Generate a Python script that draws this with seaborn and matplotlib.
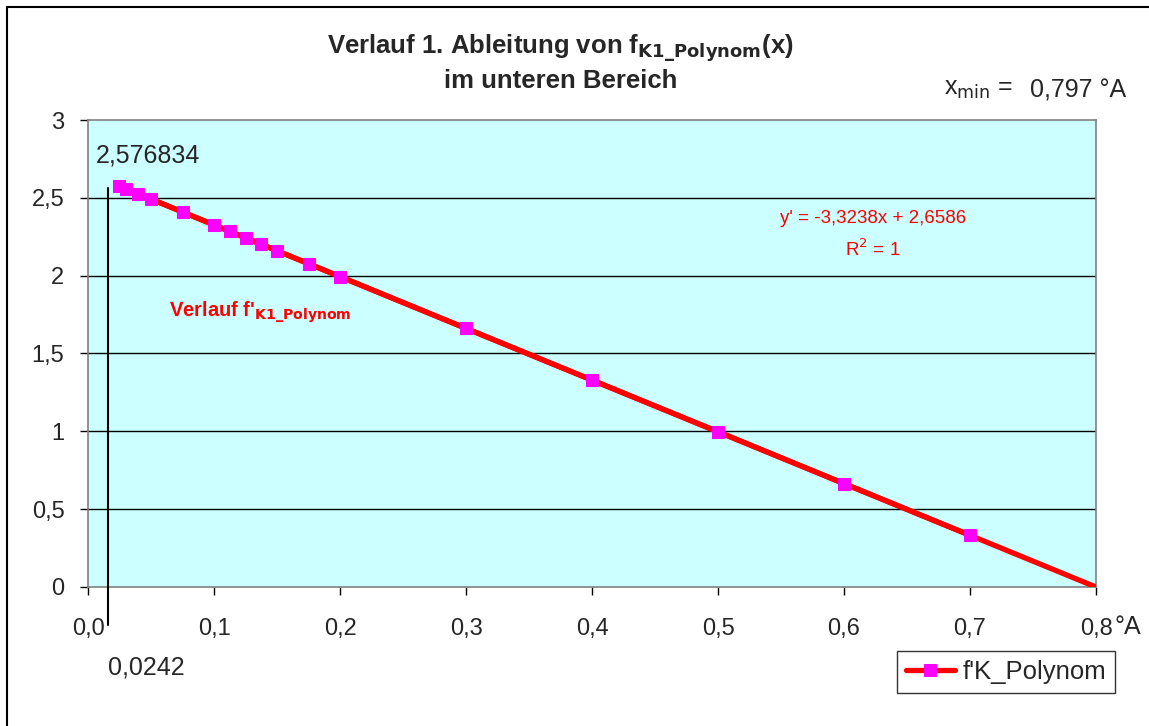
import seaborn as sns
import pandas as pd
import numpy as np
import matplotlib.pyplot as plt
from matplotlib.ticker import FuncFormatter
from matplotlib.patches import Rectangle

# Werte
x_werte = [0.0242, 0.03, 0.04, 0.05, 0.075, 0.1, 0.1125, 0.125, 0.1375, 0.15,
           0.175, 0.2, 0.3, 0.4, 0.5, 0.6, 0.7]
y_werte = [2.577, 2.559, 2.526, 2.492, 2.409, 2.326, 2.285, 2.243, 2.202, 2.160,
           2.077, 1.994, 1.661, 1.329, 0.997, 0.664, 0.332]
x_ende = 0.8
x_ticks = [0.0, 0.1, 0.2, 0.3, 0.4, 0.5, 0.6, 0.7, 0.8]
y_ticks = [0, 0.5, 1, 1.5, 2, 2.5, 3]

sns.set_style('white')
plt.rcParams['font.family'] = ['Liberation Sans', 'DejaVu Sans']

df = pd.DataFrame({'x': x_werte, 'y': y_werte})

# lineare Trendlinie
m, b = np.polyfit(df['x'], df['y'], 1)
trend = pd.DataFrame({'x': [df['x'].iloc[0], x_ende]})
trend['y'] = m * trend['x'] + b

fig = plt.figure(figsize=(11.49, 7.26), dpi=100)
ax = fig.add_axes([0.0766, 0.1915, 0.8773, 0.6432])
ax.set_facecolor('#CCFFFF')

# Rahmen um das ganze Diagramm
fig.patches.append(Rectangle((7 / 1149, -0.1), 1.2, 1 - 7 / 726 + 0.1,
                             transform=fig.transFigure, fill=False,
                             edgecolor='black', linewidth=1.5))

for yt in y_ticks[1:-1]:
    ax.axhline(yt, color='black', linewidth=1, zorder=1)

sns.lineplot(data=trend, x='x', y='y', color='red', linewidth=3.8, ax=ax,
             zorder=3, legend=False)
sns.lineplot(data=df, x='x', y='y', color='red', linewidth=3.8, marker='s',
             markersize=9, markerfacecolor='magenta', markeredgecolor='magenta',
             ax=ax, zorder=4, label="f'K_Polynom")

# senkrechte Markierungslinie (von Hand gezeichnet im Original)
ax.plot([0.016, 0.016], [2.563, -0.245], color='black', linewidth=1.5,
        clip_on=False, zorder=5)

ax.set_xlim(0, 0.8)
ax.set_ylim(0, 3)
ax.set_xticks(x_ticks)
ax.set_yticks(y_ticks)
ax.xaxis.set_major_formatter(FuncFormatter(lambda v, p: f'{v:.1f}'.replace('.', ',')))
ax.yaxis.set_major_formatter(FuncFormatter(lambda v, p: f'{v:g}'.replace('.', ',')))
ax.tick_params(axis='both', labelsize=17, length=6, width=1, direction='out',
               color='black', left=True, bottom=True)
ax.tick_params(axis='x', pad=16)
ax.tick_params(axis='y', pad=11)
ax.set_xlabel('')
ax.set_ylabel('')
for s in ax.spines.values():
    s.set_color('#808080')
    s.set_linewidth(1.2)

fig.text(0.488, 0.934, r'Verlauf 1. Ableitung von f$_{\mathbf{K1\_Polynom}}$(x)',
         ha='center', va='center', fontsize=18.5, fontweight='bold')
fig.text(0.488, 0.888, 'im unteren Bereich', ha='center', va='center',
         fontsize=18.5, fontweight='bold')
fig.text(0.822, 0.877, r'x$_{\mathrm{min}}$ =', ha='left', va='center', fontsize=18)
fig.text(0.896, 0.875, '0,797 °A', ha='left', va='center', fontsize=18)
fig.text(0.970, 0.137, '°A', ha='left', va='center', fontsize=18)

ax.text(0.006, 2.77, '2,576834', ha='left', va='center', fontsize=18)
ax.text(0.046, -0.52, '0,0242', ha='center', va='center', fontsize=18,
        clip_on=False)
ax.text(0.623, 2.37, "y' = -3,3238x + 2,6586", ha='center', va='center',
        fontsize=13.5, color='red')
ax.text(0.623, 2.17, r'R$^{2}$ = 1', ha='center', va='center', fontsize=13.5,
        color='red')
ax.text(0.064, 1.77, r"Verlauf f'$_{\mathbf{K1\_Polynom}}$", ha='left',
        va='center', fontsize=14.5, color='red', fontweight='bold')

leg = ax.legend(loc='upper left', bbox_to_anchor=(0.8026, -0.138), fontsize=18.5,
                frameon=True, fancybox=False, edgecolor='black',
                handlelength=1.9, handletextpad=0.3, borderpad=0.35,
                borderaxespad=0)
leg.get_frame().set_linewidth(1)

fig.savefig('out.png', dpi=100)
